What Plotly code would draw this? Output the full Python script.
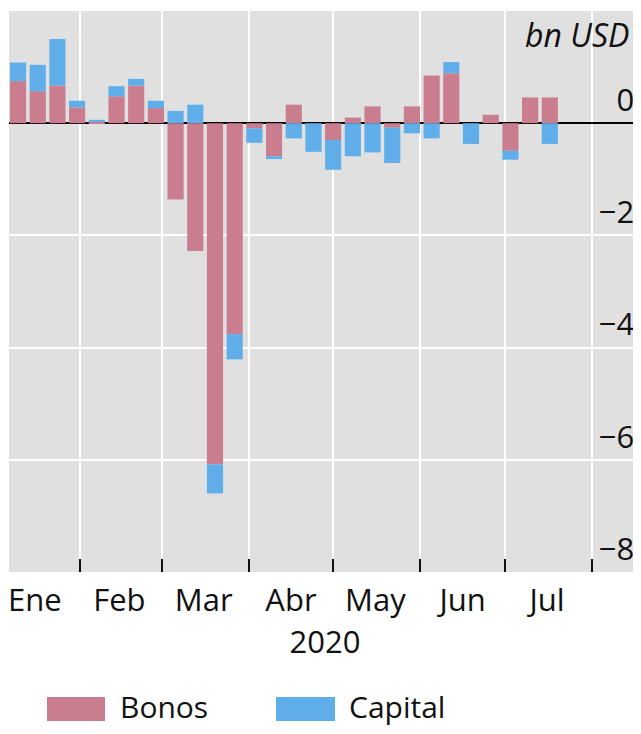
import plotly.graph_objects as go
import pandas as pd

# ---- data ----
weeks = [d.strftime("%Y-%m-%d") for d in pd.date_range("2020-01-10", periods=28, freq="7D")]
bonos = [0.75, 0.57, 0.67, 0.28, 0.02, 0.48, 0.67, 0.27, -1.36, -2.28, -6.08, -3.76,
         -0.09, -0.59, 0.33, 0.0, -0.30, 0.10, 0.30, -0.08, 0.30, 0.85, 0.89, 0.0,
         0.15, -0.49, 0.46, 0.46]
capital = [0.33, 0.47, 0.83, 0.12, 0.04, 0.18, 0.12, 0.13, 0.22, 0.33, -0.52, -0.45,
           -0.26, -0.05, -0.27, -0.51, -0.53, -0.59, -0.52, -0.63, -0.18, -0.27, 0.20, -0.37,
           0.0, -0.16, 0.0, -0.37]
series_names = ["Bonos", "Capital"]
series_colors = ["#c97d8f", "#5faee9"]

month_labels = ["Ene", "Feb", "Mar", "Abr", "May", "Jun", "Jul"]
month_mid = ["2020-01-16", "2020-02-15", "2020-03-16", "2020-04-16",
             "2020-05-16", "2020-06-16", "2020-07-16"]
month_starts = ["2020-02-01", "2020-03-01", "2020-04-01", "2020-05-01",
                "2020-06-01", "2020-07-01", "2020-08-01"]
y_ticks = [0, -2, -4, -6, -8]
unit_label = "bn USD"
year_label = "2020"

FONT = "Open Sans"
FS = 31
TXT = "#111111"

fig = go.Figure()
for name, vals, col in zip(series_names, [bonos, capital], series_colors):
    fig.add_trace(go.Bar(x=weeks, y=vals, name=name, marker_color=col,
                         marker_line_width=0, showlegend=False))

# page body has an 8px margin: figure sits at (8, 8) in the window
OFF = 8
W, H = 633, 718
L, R, T, B = 1, 0, 3, 154
pw, ph = W - L - R, H - T - B

def px(x):  # x in window pixels
    return (x - OFF - L) / pw

def py(y):  # y in window pixels
    return (H - B - (y - OFF)) / ph

shapes = [
    dict(type="rect", xref="paper", yref="paper", x0=px(47), x1=px(105), y0=py(721), y1=py(697),
         fillcolor=series_colors[0], line_width=0),
    dict(type="rect", xref="paper", yref="paper", x0=px(276), x1=px(335), y0=py(721), y1=py(697),
         fillcolor=series_colors[1], line_width=0),
]

leg_font = dict(size=30, color=TXT, family=FONT)
annotations = [
    dict(text=series_names[0], xref="paper", yref="paper", x=px(119), y=py(706),
         xanchor="left", yanchor="middle", showarrow=False, borderpad=0, font=leg_font),
    dict(text=series_names[1], xref="paper", yref="paper", x=px(348), y=py(706),
         xanchor="left", yanchor="middle", showarrow=False, borderpad=0, font=leg_font),
    dict(text="<i>" + unit_label + "</i>", xref="paper", yref="paper", x=px(631), y=py(35),
         xanchor="right", yanchor="middle", showarrow=False, font=dict(size=32, color=TXT, family=FONT)),
]

fig.update_layout(
    width=W, height=H,
    margin=dict(l=L, r=R, t=T, b=B, pad=0, autoexpand=False),
    barmode="relative",
    bargap=0.18,
    paper_bgcolor="white",
    plot_bgcolor="#e0e0e0",
    font=dict(family=FONT, size=FS, color=TXT),
    shapes=shapes,
    annotations=annotations,
    xaxis=dict(
        type="date", automargin=False,
        range=["2020-01-06 19:00", "2020-08-18 10:00"],
        tickmode="array", tickvals=month_mid, ticktext=month_labels,
        ticks="", showgrid=False, zeroline=False,
        tickfont=dict(size=FS, color=TXT, family=FONT),
        ticklabelstandoff=0,
        minor=dict(tickmode="array", tickvals=month_starts, ticks="inside", ticklen=13,
                   tickwidth=2, tickcolor="#111111", showgrid=True, gridcolor="white", gridwidth=2),
        title=dict(text=year_label, font=dict(size=FS, color=TXT, family=FONT), standoff=0),
        showline=True, linecolor="white", linewidth=2, mirror=True,
    ),
    yaxis=dict(
        range=[-8, 2], side="right", automargin=False,
        tickmode="array", tickvals=y_ticks,
        ticks="", ticklabelposition="inside",
        ticklabelshift=-23, ticklabelstandoff=10,
        tickfont=dict(size=FS, color=TXT, family=FONT),
        showgrid=True, gridcolor="white", gridwidth=2,
        zeroline=True, zerolinecolor="black", zerolinewidth=2,
        showline=True, linecolor="white", linewidth=2, mirror=True,
    ),
)

fig.write_html("out.html")
